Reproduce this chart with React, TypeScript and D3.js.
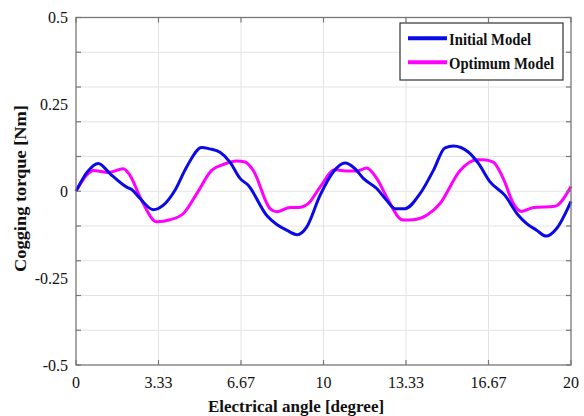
import React from "react";
import * as d3 from "d3";

const initialAngle = [0, 0.45, 0.9, 1.37, 2.05, 2.25, 2.59, 3.12, 3.53, 4.0, 4.47, 5.08, 5.4, 5.82, 6.22, 6.63, 6.96, 7.7, 8.1, 8.51, 8.94, 9.32, 9.86, 10.4, 10.87, 11.27, 11.61, 12.15, 12.55, 12.89, 13.29, 13.9, 14.44, 14.91, 15.25, 15.85, 16.26, 16.73, 17.33, 17.87, 18.21, 18.61, 18.99, 19.42, 20];
const initialTorque = [0, 0.055, 0.08, 0.051, 0.012, 0.005, -0.021, -0.053, -0.04, 0.003, 0.07, 0.126, 0.122, 0.112, 0.084, 0.037, 0.017, -0.069, -0.095, -0.112, -0.125, -0.103, -0.012, 0.056, 0.081, 0.065, 0.037, 0.008, -0.026, -0.05, -0.05, -0.007, 0.06, 0.125, 0.13, 0.113, 0.08, 0.027, -0.012, -0.069, -0.093, -0.112, -0.129, -0.107, -0.029];

const optimumAngle = [0, 0.43, 0.7, 1.31, 1.91, 2.18, 2.65, 3.26, 3.8, 4.34, 4.88, 5.48, 5.95, 6.49, 6.83, 7.16, 7.84, 8.11, 8.65, 8.98, 9.39, 9.86, 10.46, 11.0, 11.34, 11.74, 12.15, 12.62, 13.09, 13.22, 13.63, 14.17, 14.71, 15.52, 16.19, 16.46, 16.86, 17.26, 17.67, 18.0, 18.48, 19.35, 20];
const optimumTorque = [0, 0.046, 0.06, 0.054, 0.065, 0.046, -0.026, -0.088, -0.082, -0.064, -0.007, 0.06, 0.077, 0.087, 0.084, 0.06, -0.05, -0.059, -0.047, -0.047, -0.035, 0.012, 0.062, 0.058, 0.058, 0.067, 0.037, -0.026, -0.079, -0.083, -0.082, -0.069, -0.035, 0.06, 0.091, 0.091, 0.084, 0.037, -0.035, -0.058, -0.047, -0.043, 0.014];

const xTickValues = [0, 20 / 6, 40 / 6, 10, 80 / 6, 100 / 6, 20];
const xTickLabels = ["0", "3.33", "6.67", "10", "13.33", "16.67", "20"];
const yGridValues = [-0.5, -0.4, -0.3, -0.2, -0.1, 0, 0.1, 0.2, 0.3, 0.4, 0.5];
const yLabelValues = [0.5, 0.25, 0, -0.25, -0.5];
const yLabelTexts = ["0.5", "0.25", "0", "-0.25", "-0.5"];

const seriesNames = ["Initial Model", "Optimum Model"];
const seriesColors = ["#0a0ae6", "#ff00ff"];

const W = 584;
const H = 416;
const L = 76;
const R = 571;
const T = 17.5;
const B = 365;
const FONT = "'Liberation Serif', 'Times New Roman', serif";

export default function App() {
  const x = d3.scaleLinear().domain([0, 20]).range([L, R]);
  const y = d3.scaleLinear().domain([-0.5, 0.5]).range([B, T]);
  const line = d3
    .line<[number, number]>()
    .x((d) => x(d[0]))
    .y((d) => y(d[1]))
    .curve(d3.curveMonotoneX);

  const initialPts: [number, number][] = initialAngle.map((a, i) => [a, initialTorque[i]]);
  const optimumPts: [number, number][] = optimumAngle.map((a, i) => [a, optimumTorque[i]]);

  const tickLen = 5;
  const axisColor = "#777";

  return (
    <svg
      width={W}
      height={H}
      style={{ position: "absolute", left: 0, top: 0, background: "#fff" }}
      fontFamily={FONT}
    >
      <rect x={0} y={0} width={W} height={H} fill="#fff" />
      {/* grid */}
      {xTickValues.slice(1, -1).map((v, i) => (
        <line key={"gx" + i} x1={x(v)} x2={x(v)} y1={T} y2={B} stroke="#e3e3e3" strokeWidth={1} />
      ))}
      {yGridValues.slice(1, -1).map((v, i) => (
        <line key={"gy" + i} x1={L} x2={R} y1={y(v)} y2={y(v)} stroke="#e3e3e3" strokeWidth={1} />
      ))}
      {/* series */}
      <path d={line(optimumPts) || ""} fill="none" stroke={seriesColors[1]} strokeWidth={3} strokeLinejoin="round" />
      <path d={line(initialPts) || ""} fill="none" stroke={seriesColors[0]} strokeWidth={3} strokeLinejoin="round" />
      {/* box */}
      <rect x={L} y={T} width={R - L} height={B - T} fill="none" stroke={axisColor} strokeWidth={1.3} />
      {/* ticks */}
      {xTickValues.map((v, i) => (
        <g key={"xt" + i}>
          <line x1={x(v)} x2={x(v)} y1={B} y2={B - tickLen} stroke={axisColor} strokeWidth={1.2} />
          <line x1={x(v)} x2={x(v)} y1={T} y2={T + tickLen} stroke={axisColor} strokeWidth={1.2} />
        </g>
      ))}
      {yGridValues.map((v, i) => (
        <g key={"yt" + i}>
          <line x1={L} x2={L + tickLen} y1={y(v)} y2={y(v)} stroke={axisColor} strokeWidth={1.2} />
          <line x1={R} x2={R - tickLen} y1={y(v)} y2={y(v)} stroke={axisColor} strokeWidth={1.2} />
        </g>
      ))}
      {/* tick labels */}
      {xTickValues.map((v, i) => (
        <text key={"xl" + i} x={x(v)} y={388} textAnchor="middle" fontSize={16} fill="#111">
          {xTickLabels[i]}
        </text>
      ))}
      {yLabelValues.map((v, i) => (
        <text key={"yl" + i} x={68} y={y(v) + 5.5} textAnchor="end" fontSize={16} fill="#111">
          {yLabelTexts[i]}
        </text>
      ))}
      {/* axis titles */}
      <text x={296} y={412} textAnchor="middle" fontSize={17} fontWeight="bold" fill="#111">
        Electrical angle [degree]
      </text>
      <text
        transform={`translate(26, 188.5) rotate(-90)`}
        textAnchor="middle"
        fontSize={17}
        fontWeight="bold"
        fill="#111"
        textLength={167}
        lengthAdjust="spacingAndGlyphs"
      >
        Cogging torque [Nm]
      </text>
      {/* legend */}
      <rect x={400} y={23} width={163} height={57} fill="#fff" stroke="#333" strokeWidth={1.2} />
      {seriesNames.map((name, i) => (
        <g key={"lg" + i}>
          <line x1={408} x2={447} y1={38.3 + i * 24} y2={38.3 + i * 24} stroke={seriesColors[i]} strokeWidth={4} />
          <text
            x={449}
            y={44.5 + i * 24.5}
            fontSize={17}
            fontWeight="bold"
            fill="#111"
            textLength={i === 0 ? 82 : 105}
            lengthAdjust="spacingAndGlyphs"
          >
            {name}
          </text>
        </g>
      ))}
    </svg>
  );
}
